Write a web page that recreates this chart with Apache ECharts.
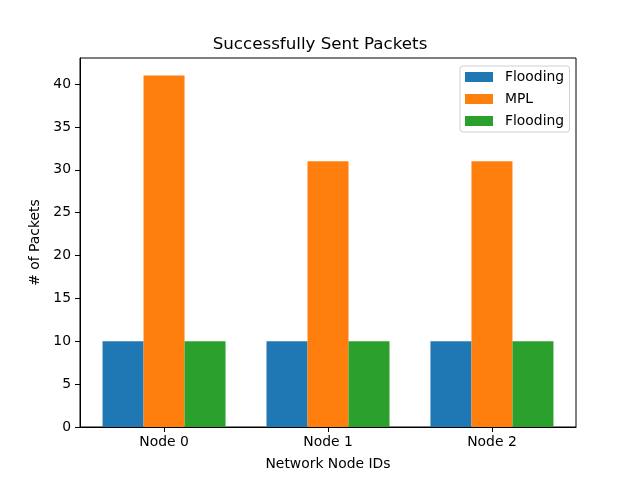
<!DOCTYPE html>
<html>
<head>
<meta charset="utf-8">
<script src="https://cdn.jsdelivr.net/npm/echarts@6/dist/echarts.min.js"></script>
<style>
  html, body { margin: 0; padding: 0; background: #fff; }
  #chart_block { width: 640px; height: 480px; }
</style>
</head>
<body>
<div id="chart_block"></div>
<script>
var nodes = ['Node 0', 'Node 1', 'Node 2'];
var node_pos = [0, 1, 2];
var flooding_a = [10, 10, 10];
var mpl = [41, 31, 31];
var flooding_b = [10, 10, 10];

var font = 'DejaVu Sans';

function pairs(vals) {
  return vals.map(function (v, i) { return [node_pos[i], v]; });
}

var chartDom = document.getElementById('chart_block');
var myChart = echarts.init(chartDom);

// second series gets a trailing space so the legend keeps both "Flooding" rows
var options = {
  animation: false,
  backgroundColor: '#fff',
  title: {
    text: 'Successfully Sent Packets',
    left: 'center',
    top: 31,
    textStyle: { fontFamily: font, fontSize: 16.7, fontWeight: 'normal', color: '#000' }
  },
  legend: {
    orient: 'vertical',
    left: 460,
    top: 66,
    data: ['Flooding', 'MPL', 'Flooding '],
    itemWidth: 28,
    itemHeight: 10,
    itemGap: 8,
    padding: [4, 1, 4, 5],
    borderColor: '#d0d0d0',
    borderWidth: 1,
    borderRadius: 3,
    backgroundColor: 'rgba(255,255,255,0.8)',
    icon: 'rect',
    textStyle: { fontFamily: font, fontSize: 13.9, color: '#000', lineHeight: 14, padding: [0, 0, 0, 7] }
  },
  grid: {
    left: 80,
    right: 64,
    top: 58,
    bottom: 53,
    outerBoundsMode: 'none',
    show: true,
    borderColor: '#000',
    borderWidth: 1
  },
  xAxis: {
    type: 'value',
    min: -0.5125,
    max: 2.5125,
    name: 'Network Node IDs',
    nameLocation: 'middle',
    nameGap: 30,
    nameTextStyle: { fontFamily: font, fontSize: 13.9, color: '#000' },
    axisLine: { show: true, onZero: false, lineStyle: { color: '#000' } },
    axisTick: { show: true, customValues: node_pos, length: 5, lineStyle: { color: '#000' } },
    axisLabel: {
      fontFamily: font, fontSize: 13.9, color: '#000', margin: 8,
      customValues: node_pos,
      formatter: function (v) { return nodes[Math.round(v)]; }
    },
    splitLine: { show: false }
  },
  yAxis: {
    type: 'value',
    min: 0,
    max: 43.05,
    interval: 5,
    name: '# of Packets',
    nameLocation: 'middle',
    nameGap: 35,
    nameTextStyle: { fontFamily: font, fontSize: 13.9, color: '#000' },
    axisLine: { show: true, onZero: false, lineStyle: { color: '#000' } },
    axisTick: { show: true, length: 5, lineStyle: { color: '#000' } },
    axisLabel: { fontFamily: font, fontSize: 13.9, color: '#000', margin: 9, showMaxLabel: false },
    splitLine: { show: false }
  },
  series: [
    { name: 'Flooding', type: 'bar', data: pairs(flooding_a), barWidth: 41, barGap: '0%', itemStyle: { color: '#1f77b4' } },
    { name: 'MPL', type: 'bar', data: pairs(mpl), barWidth: 41, barGap: '0%', itemStyle: { color: '#ff7f0e' } },
    { name: 'Flooding ', type: 'bar', data: pairs(flooding_b), barWidth: 41, barGap: '0%', itemStyle: { color: '#2ca02c' } }
  ]
};

myChart.setOption(options, true);
</script>
</body>
</html>
